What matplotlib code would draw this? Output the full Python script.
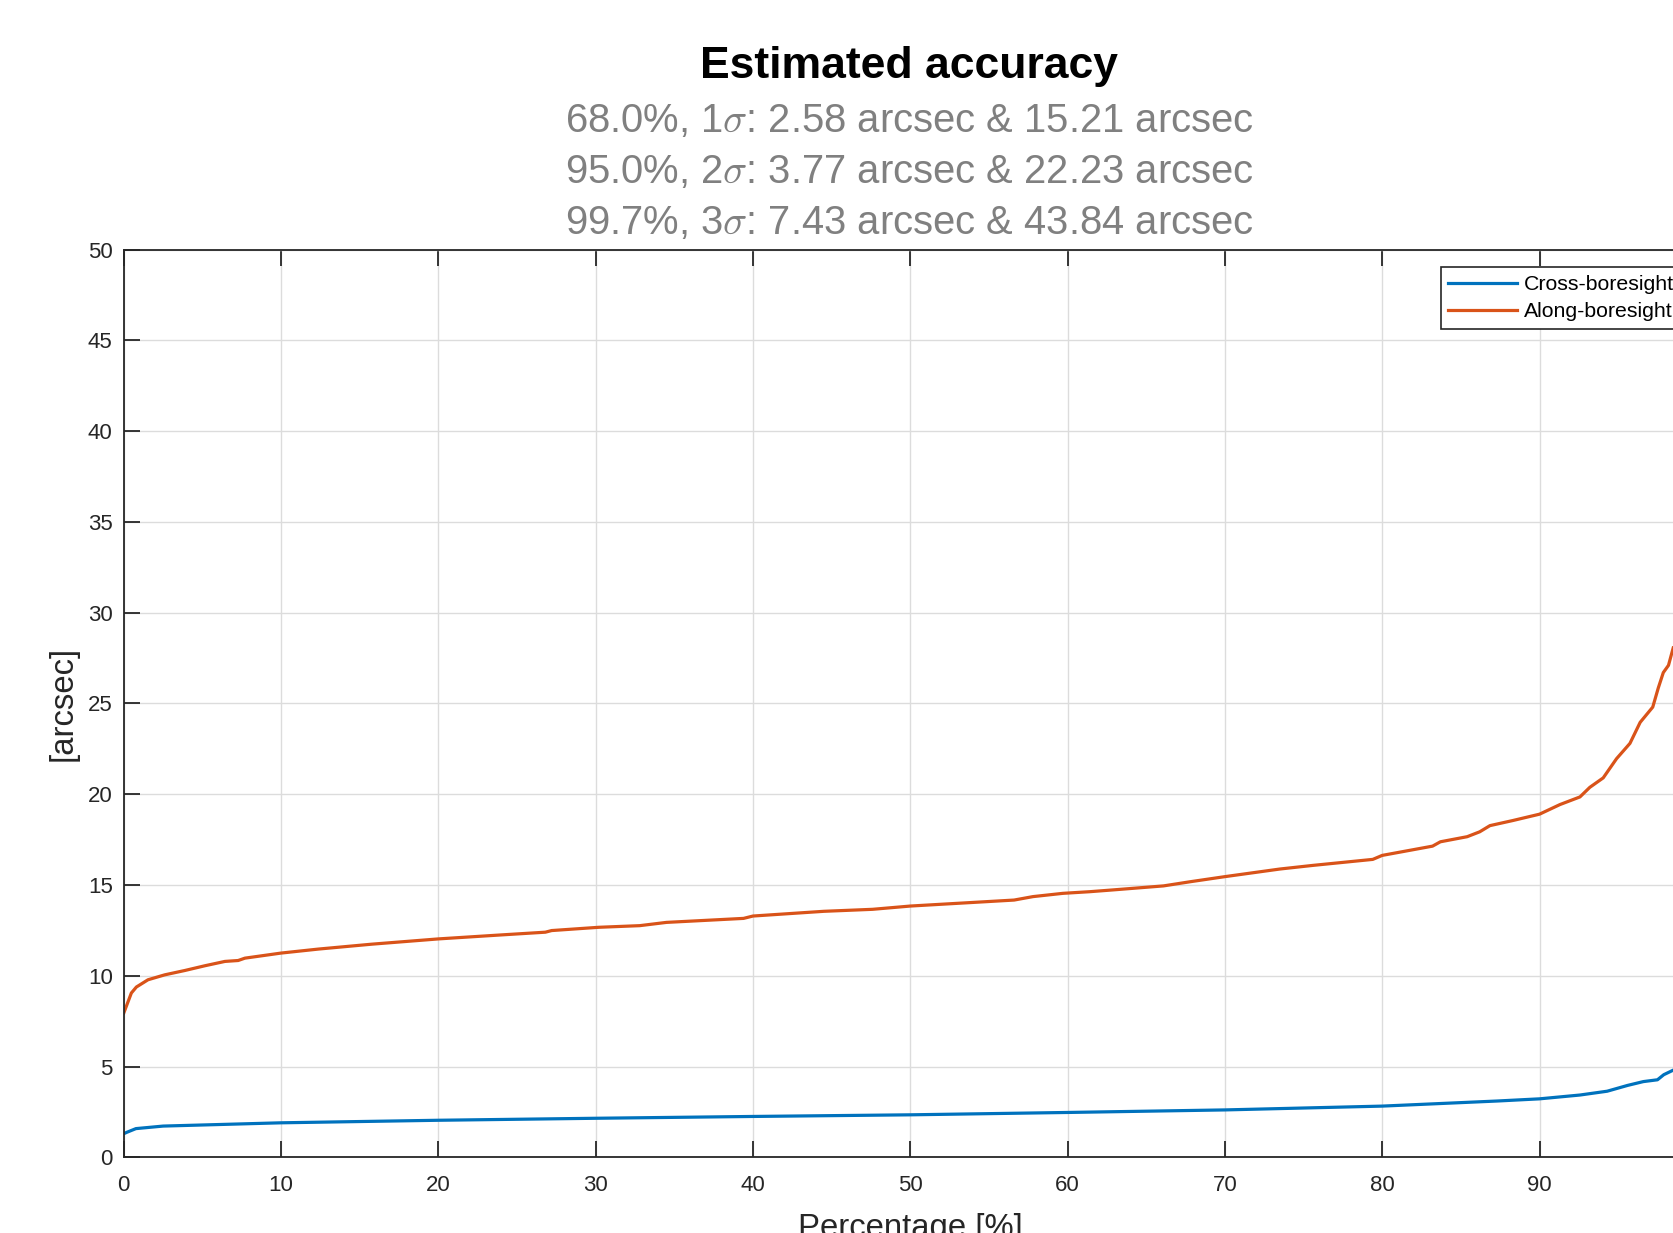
"""
Estimated accuracy curves (cross- and along-boresight) vs. percentage.
Output: out.png
"""
import matplotlib
matplotlib.use("Agg")
import matplotlib.pyplot as plt

plt.rcParams["font.family"] = ["Liberation Sans", "DejaVu Sans"]
plt.rcParams["mathtext.fontset"] = "cm"

# ==================== Data ====================

pct_cross = [0, 0.2, 0.77, 2.5, 10, 20, 30, 40, 50, 60, 70, 80, 87.3, 90,
             92.57, 94.3, 95.6, 96.6, 97.5, 97.9, 98.5]
cross_vals = [1.3, 1.38, 1.58, 1.72, 1.9, 2.04, 2.15, 2.25, 2.34, 2.47, 2.61,
              2.82, 3.1, 3.22, 3.43, 3.64, 3.96, 4.17, 4.27, 4.55, 4.8]

pct_along = [0, 0.48, 0.8, 1.54, 2.6, 3.88, 5.15, 6.43, 7.27, 7.7, 10, 12.37,
             15.77, 20, 24.0, 26.8, 27.2, 30.2, 32.8, 34.5, 39.4, 40, 44.5,
             47.6, 50, 53.0, 56.6, 57.8, 59.7, 61.4, 62.9, 66.1, 67.8, 70,
             73.5, 75.6, 79.4, 80, 83.2, 83.7, 85.4, 86.2, 86.85, 88.3, 90,
             91.3, 92.57, 93.2, 94.05, 94.9, 95.75, 96.4, 97.2, 97.55, 97.87,
             98.2, 98.5]
along_vals = [7.95, 9.05, 9.38, 9.78, 10.05, 10.29, 10.55, 10.79, 10.84, 10.97,
              11.25, 11.47, 11.74, 12.03, 12.25, 12.4, 12.49, 12.67, 12.76,
              12.94, 13.16, 13.29, 13.55, 13.66, 13.84, 13.99, 14.17, 14.36,
              14.54, 14.63, 14.73, 14.95, 15.18, 15.46, 15.88, 16.08, 16.41,
              16.63, 17.14, 17.38, 17.66, 17.93, 18.27, 18.55, 18.9, 19.43,
              19.85, 20.38, 20.9, 21.96, 22.8, 23.96, 24.8, 25.85, 26.7, 27.1,
              28.06]

series_names = ["Cross-boresight", "Along-boresight"]
sigma_levels = ["68.0%", "95.0%", "99.7%"]
sigma_k = [1, 2, 3]
cross_sigma = [2.58, 3.77, 7.43]
along_sigma = [15.21, 22.23, 43.84]

x_ticks = list(range(0, 101, 10))
y_ticks = list(range(0, 51, 5))

# ==================== Plot ====================

W, H = 1673, 1233
fig = plt.figure(figsize=(W / 100, H / 100), dpi=100)
fig.patch.set_facecolor("white")

# axes runs past the right edge of the canvas, like the source export
ax = fig.add_axes([123.8 / W, 75.7 / H, 1573 / W, 907.7 / H])

ax.plot(pct_cross, cross_vals, color="#0072BD", lw=2.3, label=series_names[0])
ax.plot(pct_along, along_vals, color="#D95319", lw=2.3, label=series_names[1])

ax.set_xlim(0, 100)
ax.set_ylim(0, 50)
ax.set_xticks(x_ticks)
ax.set_yticks(y_ticks)
ax.grid(True, color="#dcdcdc", lw=1.0)
ax.set_axisbelow(True)
for s in ax.spines.values():
    s.set_color("#262626")
    s.set_linewidth(1.3)
ax.tick_params(direction="in", length=11.5, width=1.3, color="#262626",
               labelcolor="#262626", labelsize=16, top=True, right=True)
ax.tick_params(axis="x", pad=12.5)
ax.tick_params(axis="y", pad=8)

ax.set_xlabel("Percentage [%]", fontsize=23.7, color="#262626")
ax.set_ylabel("[arcsec]", fontsize=23.7, color="#262626")
ax.xaxis.set_label_coords(0.5, -0.061)
ax.yaxis.set_label_coords(-0.029, 0.5)

leg = ax.legend(loc="upper left", bbox_to_anchor=(1440.7 / W, 1 - 267.3 / H),
                bbox_transform=fig.transFigure, borderaxespad=0,
                fontsize=15.3, handlelength=3.25, handletextpad=0.3,
                borderpad=0.36, labelspacing=0.38, fancybox=False,
                framealpha=1, edgecolor="#262626")
leg.get_frame().set_linewidth(1.2)

# title + sigma lines
cx = 909 / W
fig.text(cx, 1 - 78 / H, "Estimated accuracy", ha="center", va="baseline",
         fontsize=32, fontweight="bold", color="black")
for i, (lvl, k, c, a) in enumerate(zip(sigma_levels, sigma_k, cross_sigma, along_sigma)):
    line = f"{lvl}, {k}$\\sigma$: {c:.2f} arcsec & {a:.2f} arcsec"
    fig.text(cx, 1 - (132.3 + 50.7 * i) / H, line, ha="center", va="baseline",
             fontsize=28.8, color="#808080")

fig.savefig("out.png", dpi=100)
